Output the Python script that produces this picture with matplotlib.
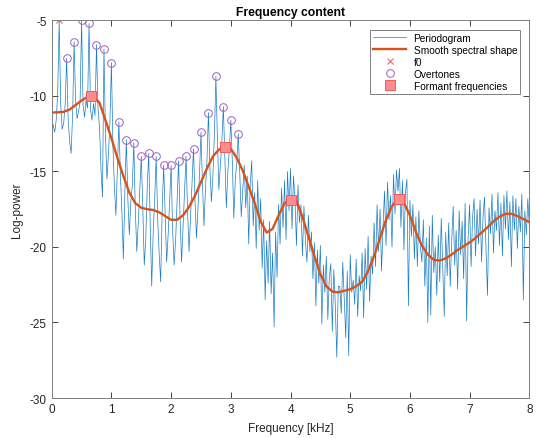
import numpy as np
import matplotlib
matplotlib.use("Agg")
import matplotlib.pyplot as plt

plt.rcParams['font.family'] = ['Liberation Sans', 'DejaVu Sans']
plt.rcParams['axes.unicode_minus'] = False

# periodogram, log-power, one value every 0.025 kHz from 0 to 8 kHz
pgram = [
    -12.3, -11.9, -12.4, -11.6, -9.8,
    -5.0, -10.5, -12.2, -11.8, -10.6,
    -7.5, -11.5, -13.0, -13.8, -11.2,
    -6.4, -10.3, -11.5, -11.0, -10.4,
    -5.0, -10.6, -11.4, -10.3, -10.8,
    -5.2, -10.9, -11.6, -10.5, -11.3,
    -6.6, -10.8, -12.0, -14.8, -16.7,
    -6.9, -12.5, -15.5, -13.9, -11.7,
    -7.8, -13.3, -16.0, -17.9, -14.8,
    -11.7, -15.2, -17.6, -20.8, -16.4,
    -12.9, -16.8, -19.2, -17.0, -15.9,
    -13.1, -17.5, -20.3, -18.4, -16.2,
    -14.0, -17.3, -21.2, -19.5, -16.0,
    -13.8, -18.5, -22.6, -19.0, -16.8,
    -14.0, -18.2, -20.5, -22.3, -17.6,
    -14.6, -17.9, -21.0, -19.2, -17.0,
    -14.6, -18.8, -21.2, -19.6, -16.9,
    -14.3, -18.0, -21.0, -18.7, -16.5,
    -14.0, -17.5, -20.3, -18.1, -15.8,
    -13.5, -16.9, -19.4, -17.4, -15.2,
    -12.4, -15.8, -18.6, -16.2, -14.3,
    -11.1, -14.8, -17.0, -15.3, -12.5,
    -8.7, -12.8, -16.2, -14.6, -13.0,
    -10.7, -14.0, -17.4, -15.0, -13.6,
    -11.6, -14.3, -18.1, -15.5, -14.4,
    -12.5, -15.1, -18.0, -16.2,
    -14.6, -17.4, -15.3, -19.8, -15.9, -14.3, -18.6, -16.4, -20.1, -15.6,
    -18.9, -16.8, -21.4, -18.2, -23.5, -19.6, -22.4, -18.3, -23.1, -20.4,
    -25.3, -19.0, -22.0, -17.2, -19.8, -16.1, -18.7, -15.6, -19.5, -15.0,
    -17.6, -14.8, -18.8, -15.3, -16.9, -19.9, -15.9, -18.4, -17.2, -20.6,
    -17.3, -19.6, -21.0, -17.9, -20.3, -19.0, -22.1, -19.7, -23.9, -20.2,
    -22.4, -19.9, -25.1, -21.2, -23.0, -20.6, -24.8, -22.0, -21.1, -25.6,
    -21.5, -23.8, -27.3, -22.6, -22.6, -24.4, -21.0, -23.4, -26.0, -21.6,
    -27.2, -20.5, -23.0, -22.2, -23.8, -20.8, -24.6, -21.9, -22.9, -20.4,
    -24.7, -20.1, -22.8, -19.3, -23.6, -20.6, -21.8, -18.4, -21.3, -17.2,
    -20.3, -17.5, -21.6, -18.6, -16.3, -19.9, -15.7, -18.2, -16.6, -20.0,
    -15.2, -17.8, -14.9, -16.3, -14.8, -18.7, -15.6, -20.2, -16.4, -15.5,
    -23.9, -16.9, -19.3, -17.2, -20.8, -18.0, -21.3, -17.6, -19.9, -21.0,
    -18.2, -22.6, -19.4, -25.0, -18.6, -24.5, -17.9, -21.7, -20.0, -23.2,
    -19.2, -22.3, -18.1, -21.4, -24.6, -19.0, -21.9, -18.4, -22.6, -19.6,
    -17.3, -21.2, -18.9, -22.8, -17.6, -20.5, -18.3, -22.1, -17.1, -24.9,
    -19.4, -17.2, -21.3, -18.0, -16.8, -20.6, -17.5, -19.8, -16.9, -21.0,
    -18.0, -16.7, -20.2, -23.2, -17.4, -19.1, -16.5, -20.4, -17.6, -18.9,
    -16.4, -19.9, -17.1, -20.6, -16.6, -18.8, -16.3, -19.5, -17.0, -21.3,
    -16.6, -18.9, -16.8, -20.1, -17.3, -19.0, -16.5, -23.5, -17.6, -19.2,
    -16.8, -18.6,
]
pgram_step = 0.025  # kHz

# smooth spectral envelope, every 0.1 kHz
smooth = [
    -11.1, -11.08, -11.05, -10.9, -10.6, -10.3, -10.05, -10.05, -10.45, -11.6,
    -12.8, -14.1, -15.3, -16.4, -17.1, -17.4, -17.5, -17.55, -17.7, -17.95,
    -18.2, -18.2, -17.9, -17.35, -16.6, -15.7, -14.8, -14.0, -13.55, -13.35,
    -13.5, -14.1, -14.95, -16.0, -17.1, -18.3, -19.05, -18.8, -17.9, -17.1,
    -16.85, -16.95, -18.0, -19.3, -20.6, -21.8, -22.6, -22.95, -23.0, -22.9,
    -22.8, -22.6, -22.3, -21.6, -20.6, -19.4, -18.2, -17.3, -16.8, -17.1,
    -17.9, -19.0, -19.9, -20.5, -20.85, -20.9, -20.75, -20.5, -20.2, -19.95,
    -19.7, -19.4, -19.05, -18.7, -18.3, -18.0, -17.8, -17.8, -17.95, -18.15,
    -18.35,
]
smooth_step = 0.1  # kHz

f0_khz = [0.125]
f0_val = [-5.0]

overtone_khz = [0.25, 0.375, 0.5, 0.625, 0.75, 0.875, 1.0, 1.125, 1.25, 1.375,
                1.5, 1.625, 1.75, 1.875, 2.0, 2.125, 2.25, 2.375, 2.5, 2.625,
                2.75, 2.875, 3.0, 3.125]
overtone_val = [-7.5, -6.4, -5.0, -5.2, -6.6, -6.9, -7.8, -11.7, -12.9, -13.1,
                -14.0, -13.8, -14.0, -14.6, -14.6, -14.3, -14.0, -13.5, -12.4, -11.1,
                -8.7, -10.7, -11.6, -12.5]

formant_khz = [0.654, 2.91, 4.01, 5.82]
formant_val = [-10.0, -13.36, -16.87, -16.8]

pg_f = np.arange(len(pgram)) * pgram_step
sm_f = np.arange(len(smooth)) * smooth_step

fig = plt.figure(figsize=(5.36, 4.39), dpi=100)
ax = fig.add_axes([0.0965, 0.0911, 0.891, 0.860])

ax.plot(pg_f, pgram, color='#1A7DC4', lw=0.5, label='Periodogram')
ax.plot(sm_f, smooth, color='#D95319', lw=1.7, label='Smooth spectral shape')
ax.plot(f0_khz, f0_val, 'x', color='#FF6060', ms=4.5, mew=0.8, ls='none', label='f0')
ax.plot(overtone_khz, overtone_val, 'o', mfc='none', mec='#A05CC8', ms=5.5, mew=0.7,
        ls='none', label='Overtones')
ax.plot(formant_khz, formant_val, 's', mfc='#FF8C8C', mec='#F05A5A', ms=7.5, mew=0.7,
        ls='none', label='Formant frequencies')

ax.set_xlim(0, 8)
ax.set_ylim(-30, -5)
ax.set_xticks(range(0, 9))
ax.set_yticks(range(-30, -4, 5))
ax.tick_params(direction='in', length=4, width=0.6, colors='#262626', labelsize=8.5,
               top=True, right=True)
for s in ax.spines.values():
    s.set_color('#808080')
    s.set_linewidth(0.7)

ax.set_title('Frequency content', fontsize=8.7, fontweight='bold', pad=4)
ax.set_xlabel('Frequency [kHz]', fontsize=8.5, color='#262626', labelpad=5)
ax.set_ylabel('Log-power', fontsize=8.5, color='#262626', labelpad=5)

leg = ax.legend(loc='upper right', fontsize=7.3, fancybox=False, framealpha=1,
                edgecolor='#808080', handlelength=3.3, borderaxespad=0.9,
                labelspacing=0.2, borderpad=0.3, handletextpad=0.7)
leg.get_frame().set_linewidth(0.7)

fig.savefig('out.png', dpi=100)
